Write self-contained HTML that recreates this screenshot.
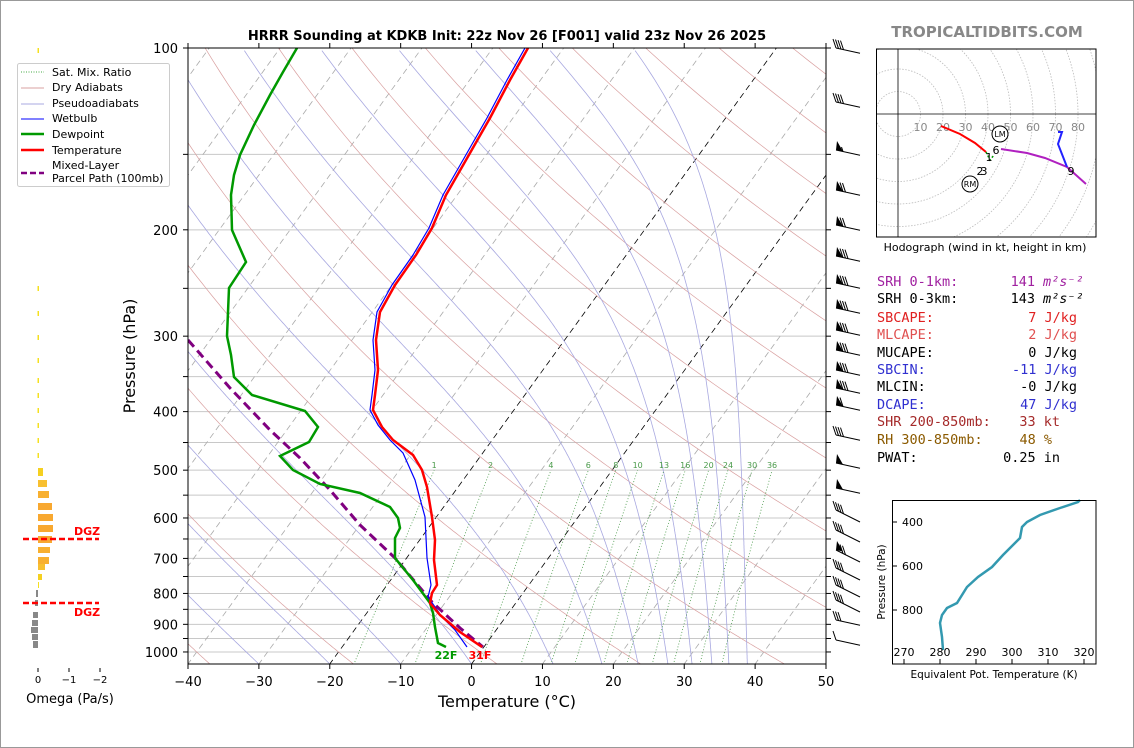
<!DOCTYPE html>
<html><head><meta charset="utf-8">
<style>
html,body{margin:0;padding:0;background:#fff;}
svg{display:block;font-family:"DejaVu Sans","Liberation Sans",sans-serif;}
.mono{font-family:"DejaVu Sans Mono","Liberation Mono",monospace;font-size:13.5px;}
</style></head><body>
<svg id="s" width="1134" height="748" viewBox="0 0 1134 748" xmlns="http://www.w3.org/2000/svg">
<rect x="0.5" y="0.5" width="1133" height="747" fill="#fff" stroke="#999"/>
<defs><clipPath id="pc"><rect x="188" y="48" width="638" height="616"/></clipPath>
<clipPath id="hc"><rect x="876" y="49" width="220" height="188"/></clipPath></defs>
<g id="bg" clip-path="url(#pc)"></g>
<g id="fg"></g>
<text x="507" y="40" text-anchor="middle" font-size="13" font-weight="bold">HRRR Sounding at KDKB Init: 22z Nov 26 [F001] valid 23z Nov 26 2025</text>
<text x="987" y="37" text-anchor="middle" font-size="15" font-weight="bold" fill="#888">TROPICALTIDBITS.COM</text>
<text x="507" y="707" text-anchor="middle" font-size="16">Temperature (°C)</text>
<text transform="translate(135,356) rotate(-90)" text-anchor="middle" font-size="16">Pressure (hPa)</text>
<g font-size="11">
<rect x="17.5" y="63.5" width="152" height="123" fill="#fff" stroke="#ccc" rx="2"/>
<line x1="21" y1="72" x2="44" y2="72" stroke="#4a4" stroke-dasharray="1,1.5"/><text x="52" y="76">Sat. Mix. Ratio</text>
<line x1="21" y1="88" x2="44" y2="88" stroke="#d9a0a0"/><text x="52" y="91">Dry Adiabats</text>
<line x1="21" y1="104" x2="44" y2="104" stroke="#a8a8e0"/><text x="52" y="107">Pseudoadiabats</text>
<line x1="21" y1="119" x2="44" y2="119" stroke="#00f"/><text x="52" y="122">Wetbulb</text>
<line x1="21" y1="134" x2="44" y2="134" stroke="#090" stroke-width="2.5"/><text x="52" y="138">Dewpoint</text>
<line x1="21" y1="150" x2="44" y2="150" stroke="#f00" stroke-width="2.5"/><text x="52" y="154">Temperature</text>
<line x1="21" y1="173" x2="44" y2="173" stroke="#800080" stroke-width="2.5" stroke-dasharray="6,3"/><text x="52" y="169">Mixed-Layer</text><text x="52" y="182">Parcel Path (100mb)</text>
</g>
<g class="mono">
<text x="877" y="286" fill="#a020a0">SRH 0-1km:</text><text x="1035" y="286" text-anchor="end" fill="#a020a0">141</text><text x="1043" y="286" fill="#a020a0" font-style="italic">m²s⁻²</text>
<text x="877" y="303">SRH 0-3km:</text><text x="1035" y="303" text-anchor="end">143</text><text x="1043" y="303" font-style="italic">m²s⁻²</text>
<text x="877" y="322" fill="#e02020">SBCAPE:</text><text x="1077" y="322" text-anchor="end" fill="#e02020">7 J/kg</text>
<text x="877" y="339" fill="#e05050">MLCAPE:</text><text x="1077" y="339" text-anchor="end" fill="#e05050">2 J/kg</text>
<text x="877" y="357">MUCAPE:</text><text x="1077" y="357" text-anchor="end">0 J/kg</text>
<text x="877" y="374" fill="#3030d0">SBCIN:</text><text x="1077" y="374" text-anchor="end" fill="#3030d0">-11 J/kg</text>
<text x="877" y="391">MLCIN:</text><text x="1077" y="391" text-anchor="end">-0 J/kg</text>
<text x="877" y="409" fill="#3030d0">DCAPE:</text><text x="1077" y="409" text-anchor="end" fill="#3030d0">47 J/kg</text>
<text x="877" y="426" fill="#a52a2a">SHR 200-850mb:</text><text x="1060" y="426" text-anchor="end" fill="#a52a2a">33 kt</text>
<text x="877" y="444" fill="#8b5a00">RH 300-850mb:</text><text x="1052" y="444" text-anchor="end" fill="#8b5a00">48 %</text>
<text x="877" y="462">PWAT:</text><text x="1060" y="462" text-anchor="end">0.25 in</text>
</g>
<text x="985" y="251" text-anchor="middle" font-size="11">Hodograph (wind in kt, height in km)</text>
<text x="70" y="703" text-anchor="middle" font-size="13">Omega (Pa/s)</text>
</svg>
<script>
var NS="http://www.w3.org/2000/svg";
function el(p,t,a,txt){var e=document.createElementNS(NS,t);for(var k in a)e.setAttribute(k,a[k]);if(txt!==undefined)e.textContent=txt;p.appendChild(e);return e;}
var bg=document.getElementById('bg'),fg=document.getElementById('fg');
function Y(p){return 48+262.3*Math.log(p/100);}
function X(T,p){return 188+(T+40)*7.089+(664-Y(p))*0.725;}
function pl(pts){return pts.map(function(q){return q[0].toFixed(1)+','+q[1].toFixed(1)}).join(' ');}
var P=[];for(var p=1050;p>=100;p-=5)P.push(p);
[100,150,200,250,300,350,400,450,500,550,600,650,700,750,800,850,900,950,1000].forEach(function(p){el(bg,'line',{x1:188,x2:826,y1:Y(p),y2:Y(p),stroke:'#c8c8c8','stroke-width':1});});
for(var T=-160;T<=50;T+=10){el(bg,'line',{x1:X(T,1050),y1:Y(1050),x2:X(T,100),y2:Y(100),stroke:(T==0||T==-20)?'#000':'#aaa','stroke-width':0.8,'stroke-dasharray':'6,4'});}
for(var th=-40;th<=220;th+=20){var pts=P.map(function(p){return [X((th+273.15)*Math.pow(p/1000,0.2857)-273.15,p),Y(p)]});el(bg,'polyline',{points:pl(pts),fill:'none',stroke:'#d9a0a0','stroke-width':0.7});}
function es(T){return 6.112*Math.exp(17.67*T/(T+243.5));}
[-30,-20,-10,0,11.5,18.4,23.5,27.7,31.1,33.9,36.3,38.9].forEach(function(t0){var T=t0+273.15,pts=[];for(var p=1047;p>=100;p-=2){pts.push([X(T-273.15,p),Y(p)]);var e=es(T-273.15),rs=0.622*e/(p-e),Lv=2.5e6,Rd=287,cp=1005;var dTdlnp=(Rd*T+Lv*rs)/(cp+Lv*Lv*rs*0.622/(Rd*T*T));T+=dTdlnp*Math.log((p-2)/p);}
el(bg,'polyline',{points:pl(pts),fill:'none',stroke:'#a8a8e0','stroke-width':0.8});});
[1,2,4,6,8,10,13,16,20,24,30,36].forEach(function(w){var pts=[];for(var p=1050;p>=500;p-=10){var e=w*p/(622+w),l=Math.log(e/6.112),Td=243.5*l/(17.67-l);pts.push([X(Td,p),Y(p)]);}
el(bg,'polyline',{points:pl(pts),fill:'none',stroke:'#4a9a4a','stroke-width':0.8,'stroke-dasharray':'1,2'});var q=pts[pts.length-1];el(fg,'text',{x:q[0],y:q[1]-2,'text-anchor':'middle','font-size':8,fill:'#4a9a4a'},''+w);});
el(bg,'polyline',{points:"188,340 230,388 270,430 300,458 330,490 360,525 395,558 432,602 460,628 483,647",fill:'none',stroke:'#800080','stroke-width':3,'stroke-dasharray':'9,5'});
el(bg,'polyline',{points:"297,48 283,72 270,95 254,125 240,155 234,175 231,195 232,230 246,262 229,288 228,312 227,336 231,355 234,377 252,395 305,411 318,427 309,442 280,456 293,470 320,484 360,493 390,507 398,518 400,528 395,538 395,558 413,580 430,603 433,613 435,627 438,643 446,647",fill:'none',stroke:'#090','stroke-width':2.5});
el(bg,'polyline',{points:"525,48 507,80 487,118 463,160 443,195 429,228 413,255 392,285 377,312 373,340 375,370 372,395 370,410 378,425 390,440 403,453 415,480 425,517 427,558 431,585 428,597 442,617 455,630 467,647",fill:'none',stroke:'#00f','stroke-width':1.2});
el(bg,'polyline',{points:"528,48 510,80 490,118 466,160 446,195 432,228 416,255 395,285 380,312 376,340 378,370 375,395 373,410 382,427 393,440 413,455 422,470 427,487 432,517 435,540 434,560 437,585 432,593 430,603 440,615 460,632 482,647",fill:'none',stroke:'#f00','stroke-width':2.5});
el(fg,'text',{x:446,y:659,'text-anchor':'middle','font-size':11,'font-weight':'bold',fill:'#090'},'22F');
el(fg,'text',{x:480,y:659,'text-anchor':'middle','font-size':11,'font-weight':'bold',fill:'#f00'},'31F');
el(fg,'rect',{x:188,y:48,width:638,height:616,fill:'none',stroke:'#000','stroke-width':1});
for(var t=-40;t<=50;t+=10){var x=188+(t+40)*7.089;el(fg,'line',{x1:x,x2:x,y1:664,y2:669,stroke:'#000'});el(fg,'line',{x1:x,x2:x,y1:48,y2:43,stroke:'#000'});el(fg,'text',{x:x,y:686,'text-anchor':'middle','font-size':13},(t<0?'\u2212'+(-t):''+t));}
[100,150,200,250,300,350,400,450,500,550,600,650,700,750,800,850,900,950,1000].forEach(function(p){el(fg,'line',{x1:183,x2:188,y1:Y(p),y2:Y(p),stroke:'#000'});el(fg,'line',{x1:826,x2:831,y1:Y(p),y2:Y(p),stroke:'#000'});});
[100,200,300,400,500,600,700,800,900,1000].forEach(function(p){el(fg,'text',{x:178,y:Y(p)+5,'text-anchor':'end','font-size':13},''+p);});
[[48,0,4],[102,0,4],[150,1,0.5],[190,1,2],[225,1,2],[256,1,3],[283,1,3],[308,1,3],[330,1,3],[350,1,3],[370,1,3],[388,1,3],[405,1,1],[435,0,4],[463,1,0],[488,1,0],[510,0,4],[530,0,4],[550,1,2],[568,0,4],[585,0,4],[600,0,4],[620,0,3],[640,0,1]].forEach(function(b){var y=b[0],x0=836,sl=(y>500&&y<620)?0.5:0.22;
el(fg,'line',{x1:x0,y1:y,x2:860,y2:y+24*sl,stroke:'#000','stroke-width':1});var x=x0;
for(var i=0;i<b[1];i++){el(fg,'polygon',{points:x+','+y+' '+(x+7)+','+(y+1.5)+' '+(x+1)+','+(y-9),fill:'#000'});x+=7;}
var n=Math.floor(b[2]);for(var i=0;i<n;i++){el(fg,'line',{x1:x,y1:y+(x-x0)*sl,x2:x-3,y2:y+(x-x0)*sl-9,stroke:'#000','stroke-width':1});x+=2.5;}
if(b[2]%1)el(fg,'line',{x1:x,y1:y+(x-x0)*sl,x2:x-1.5,y2:y+(x-x0)*sl-4.5,stroke:'#000'});});
[50,105,155,288,313,337,360,380,395,410,425,440,455].forEach(function(y){el(fg,'rect',{x:37.5,y:y-2,width:1.5,height:5,fill:'#f5e020'});});
[[468,476,43,'#f5d020'],[480,487,47,'#f8c030'],[491,498,49,'#f8b030'],[503,510,52,'#f8a830'],[514,521,53,'#f8a830'],[525,532,53,'#f8a830'],[536,543,52,'#f8a830'],[547,553,50,'#f8b030'],[557,564,49,'#f8b030'],[564,570,45,'#f8c030'],[574,580,42,'#f5d020'],[582,588,39,'#f5e020']].forEach(function(r){el(fg,'rect',{x:38,y:r[0],width:r[2]-38,height:r[1]-r[0],fill:r[3]});});
[[590,597,36],[600,606,35],[612,618,33],[620,626,32],[627,633,31],[634,640,32],[641,648,33]].forEach(function(r){el(fg,'rect',{x:r[2],y:r[0],width:38-r[2],height:r[1]-r[0],fill:'#888'});});
[539,603].forEach(function(y){el(fg,'line',{x1:23,x2:99,y1:y,y2:y,stroke:'#f00','stroke-width':2.5,'stroke-dasharray':'6,3'});});
el(fg,'text',{x:74,y:535,'font-size':11,'font-weight':'bold',fill:'#f00'},'DGZ');
el(fg,'text',{x:74,y:616,'font-size':11,'font-weight':'bold',fill:'#f00'},'DGZ');
[[38,'0'],[69,'\u22121'],[100,'\u22122']].forEach(function(a){el(fg,'line',{x1:a[0],x2:a[0],y1:668,y2:672,stroke:'#000'});el(fg,'text',{x:a[0],y:683,'text-anchor':'middle','font-size':10},a[1]);});
var hg=el(fg,'g',{'clip-path':'url(#hc)'});
for(var r=1;r<=10;r++)el(hg,'circle',{cx:898,cy:114,r:r*22.5,fill:'none',stroke:'#bbb','stroke-dasharray':'1.5,1.5','stroke-width':0.8});
el(hg,'line',{x1:876,x2:1096,y1:114,y2:114,stroke:'#000','stroke-width':0.8});
el(hg,'line',{x1:898,x2:898,y1:49,y2:237,stroke:'#000','stroke-width':0.8});
for(var k=1;k<=8;k++)el(hg,'text',{x:898+k*22.5,y:131,'text-anchor':'middle','font-size':11,fill:'#888'},''+(k*10));
el(hg,'polyline',{points:'941,126 960,134 975,143 986,152',fill:'none',stroke:'#f00','stroke-width':2});
el(hg,'polyline',{points:'986,152 990,160 994,155',fill:'none',stroke:'#090','stroke-width':1.5,'stroke-dasharray':'2,2'});
el(hg,'polyline',{points:'1001,149 1027,153 1045,158 1067,167 1086,184',fill:'none',stroke:'#b020c0','stroke-width':2});
el(hg,'polyline',{points:'1058,132 1062,132 1058,144 1067,167',fill:'none',stroke:'#22f','stroke-width':2});
el(hg,'circle',{cx:1000,cy:134,r:8,fill:'#fff',stroke:'#000'});el(hg,'text',{x:1000,y:137,'text-anchor':'middle','font-size':8},'LM');
el(hg,'circle',{cx:970,cy:184,r:8,fill:'#fff',stroke:'#000'});el(hg,'text',{x:970,y:187,'text-anchor':'middle','font-size':8},'RM');
[[989,161,'1'],[996,154,'6'],[980,175,'2'],[984,175,'3'],[1071,175,'9']].forEach(function(a){el(hg,'text',{x:a[0],y:a[1],'text-anchor':'middle','font-size':11},a[2]);});
el(fg,'rect',{x:876.5,y:49,width:219.5,height:188,fill:'none',stroke:'#000'});
el(fg,'polyline',{points:'1080,500 1078,502 1060,508 1040,515 1027,522 1022,527 1020,538 1013,545 1003,555 992,567 978,577 967,587 957,603 947,608 942,615 940,623 942,637 943,650',fill:'none',stroke:'#3399b0','stroke-width':2.5});
el(fg,'rect',{x:892.5,y:500.5,width:203.5,height:163.5,fill:'none',stroke:'#000'});
[[400,522],[600,566],[800,610]].forEach(function(a){el(fg,'line',{x1:892,x2:897,y1:a[1],y2:a[1],stroke:'#000'});el(fg,'text',{x:902,y:a[1]+4,'font-size':11},''+a[0]);});
for(var k=0;k<=5;k++){var x=904+k*36;el(fg,'line',{x1:x,x2:x,y1:664,y2:659,stroke:'#000'});el(fg,'text',{x:x,y:656,'text-anchor':'middle','font-size':11},''+(270+k*10));}
el(fg,'text',{x:994,y:678,'text-anchor':'middle','font-size':10.5},'Equivalent Pot. Temperature (K)');
el(fg,'text',{transform:'translate(885,582) rotate(-90)','text-anchor':'middle','font-size':10.5},'Pressure (hPa)');
</script>
</body></html>
